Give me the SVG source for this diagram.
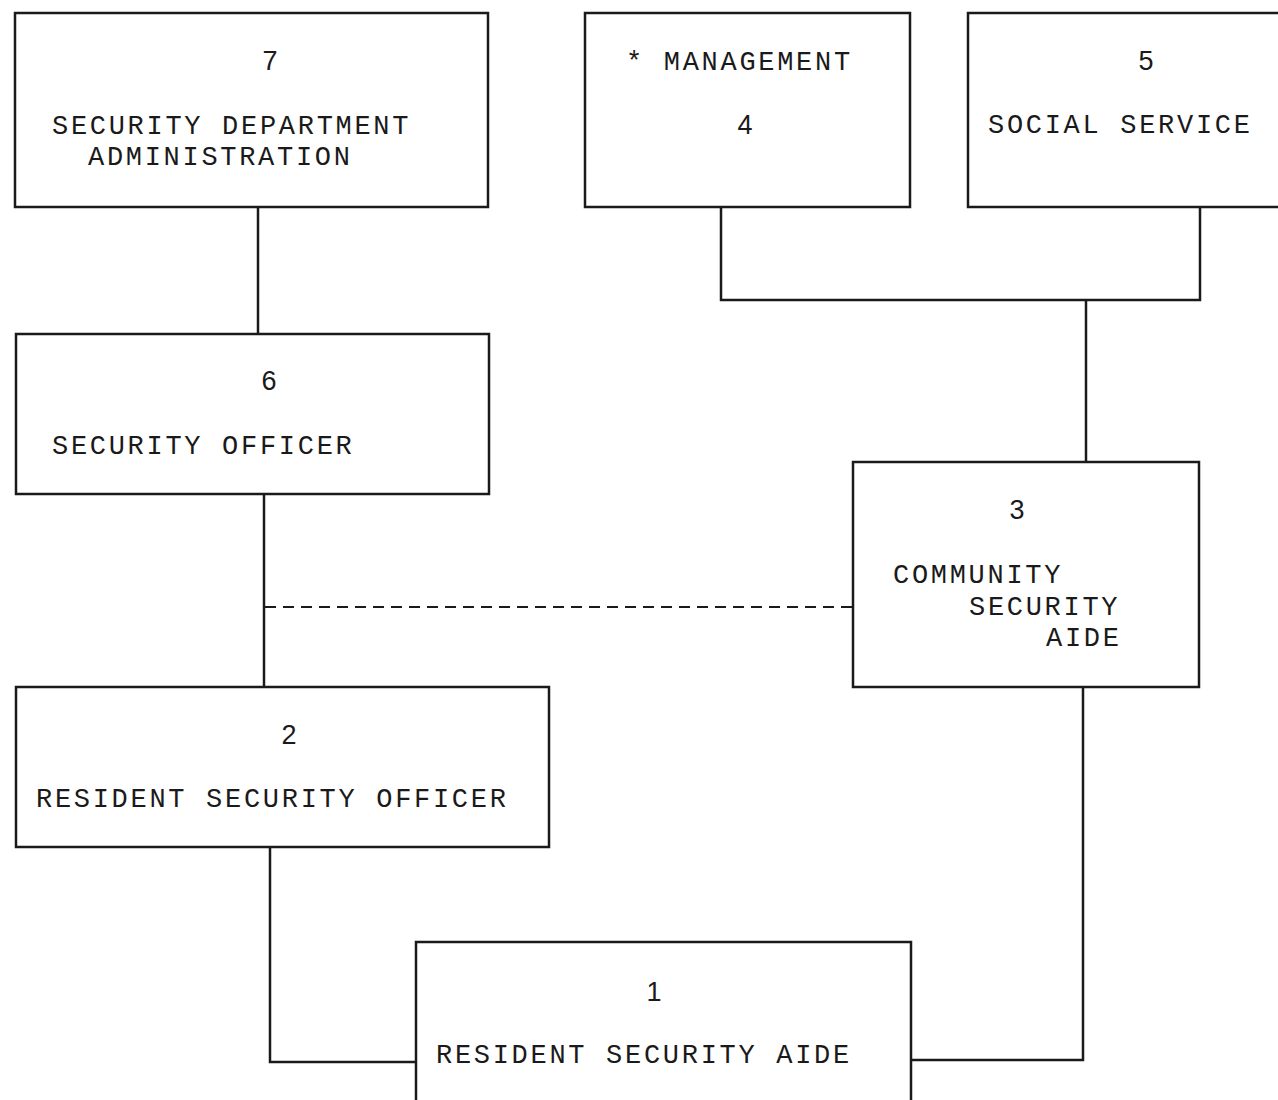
<svg xmlns="http://www.w3.org/2000/svg" width="1278" height="1100" viewBox="0 0 1278 1100">
<style>
.box{fill:none;stroke:#1a1a1a;stroke-width:2.5}
.ln{fill:none;stroke:#1a1a1a;stroke-width:2.5}
.dash{fill:none;stroke:#1a1a1a;stroke-width:2;stroke-dasharray:11 7}
.t{font-family:"Liberation Mono","DejaVu Sans Mono",monospace;font-size:27px;letter-spacing:2.7px;fill:#1a1a1a}
.n{font-family:"Liberation Sans","DejaVu Sans",sans-serif;font-size:27px;fill:#1a1a1a}
</style>
<rect width="1278" height="1100" fill="#ffffff"/>
<g id="connectors">
<line class="ln" x1="258" y1="207" x2="258" y2="334"/>
<polyline class="ln" points="721,207 721,300 1200,300 1200,207"/>
<line class="ln" x1="1086" y1="300" x2="1086" y2="462"/>
<line class="ln" x1="264" y1="494" x2="264" y2="687"/>
<line class="dash" x1="265" y1="607" x2="853" y2="607"/>
<polyline class="ln" points="270,847 270,1062 416,1062"/>
<polyline class="ln" points="1083,687 1083,1060 911,1060"/>
</g>
<g id="node7">
<rect class="box" x="15" y="13" width="473" height="194"/>
<text class="n" x="270" y="70" text-anchor="middle">7</text>
<text class="t" x="52" y="134">SECURITY DEPARTMENT</text>
<text class="t" x="88" y="165">ADMINISTRATION</text>
</g>
<g id="node4">
<rect class="box" x="585" y="13" width="325" height="194"/>
<text class="t" x="626" y="70">* MANAGEMENT</text>
<text class="n" x="745" y="134" text-anchor="middle">4</text>
</g>
<g id="node5">
<rect class="box" x="968" y="13" width="330" height="194"/>
<text class="n" x="1146" y="70" text-anchor="middle">5</text>
<text class="t" x="988" y="133">SOCIAL SERVICE</text>
</g>
<g id="node6">
<rect class="box" x="16" y="334" width="473" height="160"/>
<text class="n" x="269" y="390" text-anchor="middle">6</text>
<text class="t" x="52" y="454">SECURITY OFFICER</text>
</g>
<g id="node3">
<rect class="box" x="853" y="462" width="346" height="225"/>
<text class="n" x="1017" y="519" text-anchor="middle">3</text>
<text class="t" x="893" y="583">COMMUNITY</text>
<text class="t" x="969" y="615">SECURITY</text>
<text class="t" x="1046" y="646">AIDE</text>
</g>
<g id="node2">
<rect class="box" x="16" y="687" width="533" height="160"/>
<text class="n" x="289" y="744" text-anchor="middle">2</text>
<text class="t" x="36" y="807">RESIDENT SECURITY OFFICER</text>
</g>
<g id="node1">
<path class="box" d="M416,1110 L416,942 L911,942 L911,1110"/>
<text class="n" x="654" y="1001" text-anchor="middle">1</text>
<text class="t" x="436" y="1063">RESIDENT SECURITY AIDE</text>
</g>
</svg>
